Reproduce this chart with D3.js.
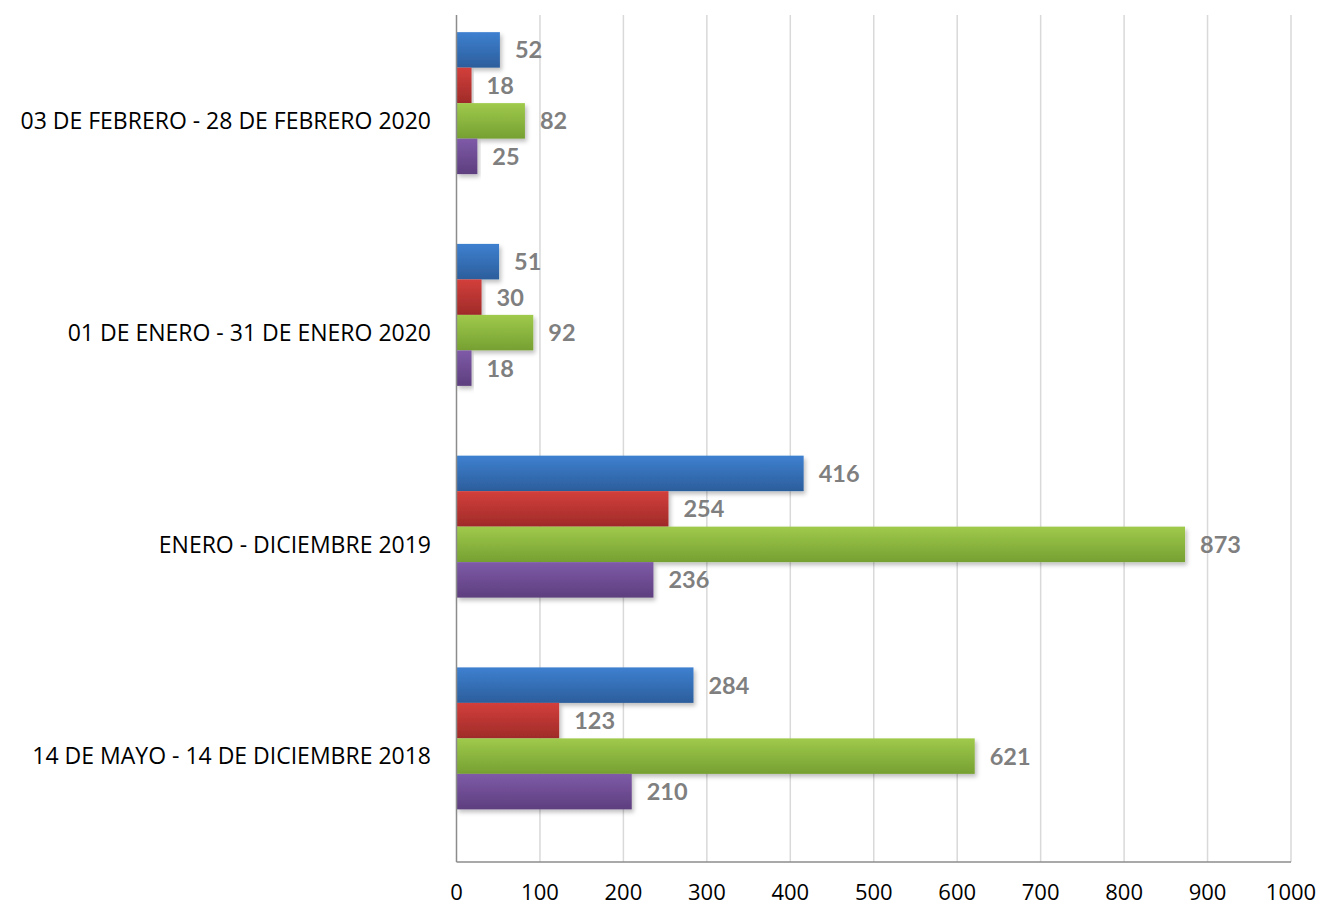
<!DOCTYPE html>
<html>
<head>
<meta charset="utf-8">
<script src="https://cdn.jsdelivr.net/npm/d3@7"></script>
<style>
  body { margin: 0; background: #fff; }
  svg { display: block; }
</style>
</head>
<body>
<svg class="container"></svg>
<script>
// categories top to bottom
const categories = [
  '03 DE FEBRERO - 28 DE FEBRERO 2020',
  '01 DE ENERO - 31 DE ENERO 2020',
  'ENERO - DICIEMBRE 2019',
  '14 DE MAYO - 14 DE DICIEMBRE 2018'
];
const seriesNames = ['Serie 1', 'Serie 2', 'Serie 3', 'Serie 4'];
const serie1 = [52, 51, 416, 284];
const serie2 = [18, 30, 254, 123];
const serie3 = [82, 92, 873, 621];
const serie4 = [25, 18, 236, 210];
const xTicks = [0, 100, 200, 300, 400, 500, 600, 700, 800, 900, 1000];

const allSeries = [serie1, serie2, serie3, serie4];
const data = categories.map((c, i) => ({
  cat: c,
  values: seriesNames.map((s, j) => ({ key: s, value: allSeries[j][i] }))
}));

const w = 1322, h = 908;
const margin = { top: 15, right: 31, bottom: 46, left: 456.5 };

const svg = d3.select('.container').attr('width', w).attr('height', h);

const xScale = d3.scaleLinear().domain([0, 1000]).range([margin.left, w - margin.right]);
const yScale = d3.scaleBand().domain(categories).range([margin.top, h - margin.bottom])
  .paddingInner(0.162).paddingOuter(0.081);
// the group leaves one empty slot at the bottom (like an empty 5th series)
const ySub = d3.scaleBand().domain(seriesNames).range([0, yScale.bandwidth() * 4 / 5]);

const gradColors = {
  'Serie 1': ['#3e80d0', '#2c5e9c'],
  'Serie 2': ['#d33f3b', '#9f2b29'],
  'Serie 3': ['#9fca4b', '#76a032'],
  'Serie 4': ['#7f5ba8', '#5d3e7e']
};

const defs = svg.append('defs');
seriesNames.forEach((s, i) => {
  const g = defs.append('linearGradient').attr('id', 'grad' + i)
    .attr('x1', 0).attr('y1', 0).attr('x2', 0).attr('y2', 1);
  g.append('stop').attr('offset', '0%').attr('stop-color', gradColors[s][0]);
  g.append('stop').attr('offset', '100%').attr('stop-color', gradColors[s][1]);
});
const shadow = defs.append('filter').attr('id', 'shadow')
  .attr('x', '-5%').attr('y', '-20%').attr('width', '120%').attr('height', '160%');
shadow.append('feDropShadow').attr('dx', 2).attr('dy', 3).attr('stdDeviation', 2)
  .attr('flood-color', '#000').attr('flood-opacity', 0.25);

// grid lines
svg.selectAll('.grid').data(xTicks.slice(1)).join('line')
  .attr('class', 'grid')
  .attr('x1', d => xScale(d)).attr('x2', d => xScale(d))
  .attr('y1', margin.top).attr('y2', h - margin.bottom)
  .attr('stroke', '#d9d9d9').attr('stroke-width', 1.5);

// bars
const groups = svg.selectAll('.cat-group').data(data).join('g')
  .attr('class', 'cat-group')
  .attr('transform', d => `translate(0, ${yScale(d.cat)})`);

groups.selectAll('rect').data(d => d.values).join('rect')
  .attr('x', xScale(0))
  .attr('y', d => ySub(d.key))
  .attr('width', d => xScale(d.value) - xScale(0))
  .attr('height', ySub.bandwidth())
  .attr('fill', d => `url(#grad${seriesNames.indexOf(d.key)})`)
  .attr('filter', 'url(#shadow)');

groups.selectAll('.val-label').data(d => d.values).join('text')
  .attr('class', 'val-label')
  .attr('x', d => xScale(d.value) + 15)
  .attr('y', d => ySub(d.key) + ySub.bandwidth() / 2)
  .attr('dy', '0.36em')
  .attr('font-family', 'Lato, "Open Sans", sans-serif')
  .attr('font-weight', 'bold')
  .attr('font-size', 23.5)
  .attr('fill', '#7f7f7f')
  .text(d => d.value);

// axes lines
svg.append('line')
  .attr('x1', xScale(0)).attr('x2', xScale(0))
  .attr('y1', margin.top).attr('y2', h - margin.bottom)
  .attr('stroke', '#8c8c8c').attr('stroke-width', 1.5);
svg.append('line')
  .attr('x1', xScale(0)).attr('x2', xScale(1000))
  .attr('y1', h - margin.bottom).attr('y2', h - margin.bottom)
  .attr('stroke', '#8c8c8c').attr('stroke-width', 1.5);

// x tick labels
svg.selectAll('.x-tick').data(xTicks).join('text')
  .attr('class', 'x-tick')
  .attr('x', d => xScale(d))
  .attr('y', 892)
  .attr('dy', '0.36em')
  .attr('text-anchor', 'middle')
  .attr('font-family', '"Open Sans", sans-serif')
  .attr('font-size', 22)
  .attr('fill', '#000')
  .text(d => d);

// category labels
svg.selectAll('.cat-label').data(categories).join('text')
  .attr('class', 'cat-label')
  .attr('x', 431)
  .attr('y', d => yScale(d) + yScale.bandwidth() / 2)
  .attr('dy', '0.36em')
  .attr('text-anchor', 'end')
  .attr('font-family', '"Open Sans", sans-serif')
  .attr('font-size', 23)
  .attr('fill', '#000')
  .text(d => d);
</script>
</body>
</html>
